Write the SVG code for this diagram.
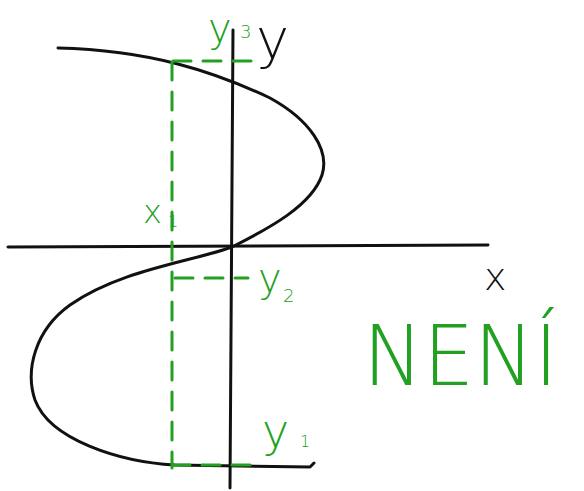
<svg xmlns="http://www.w3.org/2000/svg" width="584" height="491" viewBox="0 0 584 491">
<style>
.ink{fill:none;stroke:#111;stroke-width:3;stroke-linecap:round;stroke-linejoin:round}
.g{fill:none;stroke:#22a022;stroke-width:3;stroke-linecap:round}
.dash{stroke-dasharray:18 12}
.gt{fill:#22a022;font-family:"DejaVu Sans",sans-serif;font-weight:200}
.bt{fill:#111;font-family:"DejaVu Sans",sans-serif;font-weight:200}
</style>
<rect width="584" height="491" fill="#fff"/>
<g id="axes">
<path class="ink" d="M8,247 L488,245"/>
<path class="ink" d="M233,30 L230,488"/>
</g>
<g id="curve">
<path class="ink" d="M58,48 C150,50 215,72 270,98 C310,120 330,150 322,175 C312,205 270,228 232,247 C190,262 120,270 70,305 C35,330 25,370 35,400 C50,440 120,462 175,465 L310,467 L314,463"/>
</g>
<g id="guides">
<path class="g dash" d="M172,62 L172,468"/>
<path class="g dash" d="M173,61 L253,61"/>
<path class="g dash" d="M175,278 L248,278"/>
<path class="g dash" d="M172,465 L252,465"/>
</g>
<g id="labels">
<text class="gt" x="208" y="42" font-size="40">y</text>
<text class="gt" x="240" y="38" font-size="18">3</text>
<text class="bt" x="256" y="58" font-size="56">y</text>
<text class="gt" x="143" y="223" font-size="32">x</text>
<text class="gt" x="168" y="227" font-size="16">1</text>
<text class="gt" x="258" y="292" font-size="40">y</text>
<text class="gt" x="283" y="302" font-size="18">2</text>
<text class="gt" x="262" y="447" font-size="46">y</text>
<text class="gt" x="300" y="447" font-size="16">1</text>
<text class="bt" x="484" y="290" font-size="38">x</text>
<text class="gt" x="363" y="385" font-size="84" textLength="195" lengthAdjust="spacingAndGlyphs">NENÍ</text>
</g>
</svg>
